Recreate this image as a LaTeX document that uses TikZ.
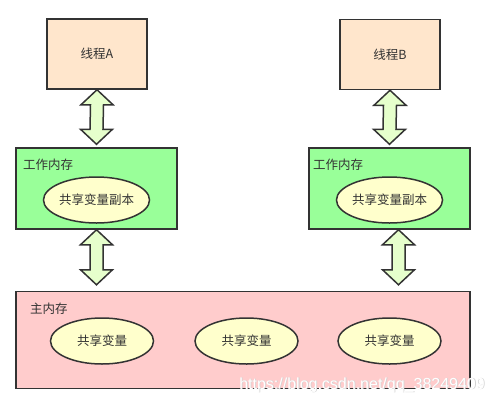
\documentclass[tikz,border=0pt]{standalone}
\usepackage{fontspec}
\setmainfont{Noto Sans CJK SC}
\setsansfont{Liberation Sans}
\usetikzlibrary{calc,shapes.geometric}
\definecolor{linecol}{HTML}{333333}
\definecolor{threadfill}{HTML}{FFE6CC}
\definecolor{workfill}{HTML}{99FF99}
\definecolor{mainfill}{HTML}{FFCCCC}
\definecolor{varfill}{HTML}{FFFFCC}
\definecolor{arrowfill}{HTML}{E6FFCC}
\begin{document}
\begin{tikzpicture}[x=1pt,y=-1pt,
  box/.style={draw=linecol,line width=1.5pt,inner sep=0pt,text=linecol,font=\fontsize{12.5}{14}\selectfont},
  thread/.style={box,fill=threadfill,minimum width=100pt,minimum height=70pt},
  workmem/.style={box,fill=workfill,minimum width=161pt,minimum height=81pt},
  mainmem/.style={box,fill=mainfill,minimum width=454pt,minimum height=97pt},
  var/.style={box,ellipse,fill=varfill,minimum width=103pt,minimum height=46pt},
  title/.style={anchor=west,inner sep=0pt,text=linecol,font=\fontsize{12.5}{14}\selectfont},
  wmark/.style={anchor=east,inner sep=0pt,font=\sffamily\fontsize{16}{18}\selectfont},
  fatarrow/.style={draw=linecol,fill=arrowfill,line width=1.5pt,line join=miter,
    to path={let \p1=(\tikztostart),\p2=(\tikztotarget) in
      (\x1,\y1) -- (\x1+16pt,\y1-15pt) -- (\x1+6.5pt,\y1-15pt) -- (\x2+6.5pt,\y2+15pt)
      -- (\x2+16pt,\y2+15pt) -- (\x2,\y2) -- (\x2-16pt,\y2+15pt) -- (\x2-6.5pt,\y2+15pt)
      -- (\x1-6.5pt,\y1-15pt) -- (\x1-16pt,\y1-15pt) -- cycle}}]
\useasboundingbox (0,0) rectangle (494,405);
\node[thread](thA) at (97,54){线程A};
\node[thread](thB) at (390,54.5){线程B};
\node[workmem](wmA) at (96.5,188.5){};
\node[workmem](wmB) at (389.5,188.5){};
\node[title](wmAlbl) at (23,165){工作内存};
\node[title](wmBlbl) at (313,165){工作内存};
\node[var](cpA) at (96.5,200){共享变量副本};
\node[var](cpB) at (389.5,200){共享变量副本};
\node[mainmem](main) at (243,340){};
\node[title](mainlbl) at (30,309){主内存};
\node[var](v1) at (102,341){共享变量};
\node[var](v2) at (246.5,341){共享变量};
\node[var](v3) at (389.5,341){共享变量};
\draw[fatarrow](thA.south) to ([yshift=3pt]wmA.north);
\draw[fatarrow](thB.south) to ([yshift=3pt]wmB.north);
\draw[fatarrow](wmA.south) to ([yshift=6pt]wmA.south |- main.north);
\draw[fatarrow]([xshift=9pt]wmB.south) to ([xshift=9pt,yshift=6pt]wmB.south |- main.north);
\node[wmark,text=gray!35](wmshadow) at (485.8,385.8){https://blog.csdn.net/qq\_38249409};
\node[wmark,text=white](wmtext) at (485,385){https://blog.csdn.net/qq\_38249409};
\end{tikzpicture}
\end{document}
